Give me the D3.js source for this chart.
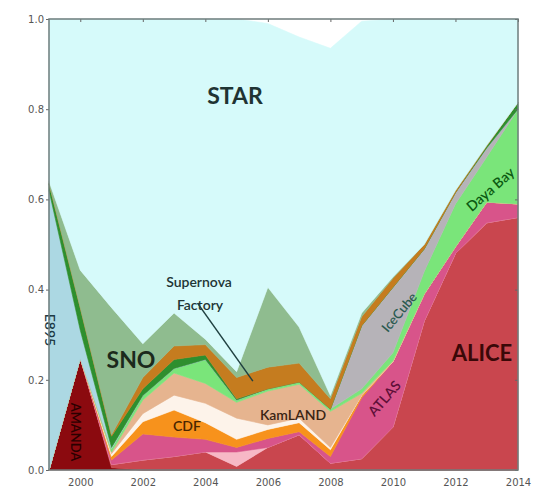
<!DOCTYPE html>
<html>
<head>
<meta charset="utf-8">
<script src="https://cdn.jsdelivr.net/npm/d3@7"></script>
<style>
  html, body { margin: 0; padding: 0; background: #ffffff; }
  svg { display: block; }
</style>
</head>
<body>
<svg id="chart" width="533" height="492"></svg>
<script>
// Share of computing use per experiment, 1999-2014 (stacked, bottom to top)
const years = [1999, 2000, 2001, 2002, 2003, 2004, 2005, 2006, 2007, 2008, 2009, 2010, 2011, 2012, 2013, 2014];

const amanda     = [0, 0.248, 0.005, 0, 0, 0, 0, 0, 0, 0, 0, 0, 0, 0, 0, 0];
const alice      = [0, 0, 0.007, 0.022, 0.03, 0.04, 0.008, 0.05, 0.078, 0.015, 0.025, 0.095, 0.33, 0.48, 0.548, 0.56];
const otherPink  = [0, 0, 0, 0, 0, 0, 0.032, 0, 0, 0, 0, 0, 0, 0, 0, 0];
const atlas      = [0, 0, 0.01, 0.058, 0.043, 0.028, 0.01, 0.02, 0.007, 0.015, 0.135, 0.145, 0.06, 0.015, 0.046, 0.03];
const cdf        = [0, 0, 0.008, 0.027, 0.06, 0.037, 0.018, 0.02, 0.02, 0.015, 0.005, 0, 0, 0, 0, 0];
const otherCream = [0, 0, 0.006, 0.018, 0.033, 0.043, 0.047, 0.01, 0.01, 0.005, 0, 0, 0, 0, 0, 0];
const kamland    = [0, 0, 0.004, 0.03, 0.049, 0.044, 0.035, 0.075, 0.075, 0.08, 0.005, 0.002, 0, 0, 0, 0];
const dayaBay    = [0, 0, 0.008, 0.01, 0.01, 0.053, 0.005, 0.005, 0.005, 0.005, 0.01, 0.018, 0.05, 0.095, 0.10, 0.21];
const iceCube    = [0, 0, 0, 0, 0, 0, 0, 0, 0, 0, 0.14, 0.145, 0.05, 0.025, 0.02, 0];
const e895       = [0.62, 0.062, 0.002, 0, 0, 0, 0, 0, 0, 0, 0, 0, 0, 0, 0, 0];
const otherGreen = [0.015, 0.05, 0.025, 0.015, 0.02, 0.01, 0.003, 0, 0, 0, 0, 0, 0, 0, 0.004, 0.015];
const supernova  = [0, 0, 0.003, 0.025, 0.03, 0.023, 0.047, 0.048, 0.042, 0.023, 0.02, 0.02, 0.01, 0.005, 0.002, 0];
const sno        = [0.005, 0.083, 0.282, 0.075, 0.073, 0.012, 0.013, 0.177, 0.08, 0.007, 0.008, 0.003, 0, 0, 0, 0];
const star       = [0.36, 0.557, 0.64, 0.72, 0.652, 0.71, 0.782, 0.585, 0.643, 0.77, 0.647, 0.572, 0.5, 0.38, 0.28, 0.185];

const yTicks = [0, 0.2, 0.4, 0.6, 0.8, 1.0];
const xTicks = [2000, 2002, 2004, 2006, 2008, 2010, 2012, 2014];

const layers = [
  { key: "amanda",     values: amanda,     color: "#8b0a0f" },
  { key: "alice",      values: alice,      color: "#c9464e" },
  { key: "otherPink",  values: otherPink,  color: "#f7b8c6" },
  { key: "atlas",      values: atlas,      color: "#d8548a" },
  { key: "cdf",        values: cdf,        color: "#f7921c" },
  { key: "otherCream", values: otherCream, color: "#fdf3ea" },
  { key: "kamland",    values: kamland,    color: "#e6b48f" },
  { key: "dayaBay",    values: dayaBay,    color: "#7ae57a" },
  { key: "iceCube",    values: iceCube,    color: "#b6b3b8" },
  { key: "e895",       values: e895,       color: "#acd8e3" },
  { key: "otherGreen", values: otherGreen, color: "#2e8f2e" },
  { key: "supernova",  values: supernova,  color: "#c57c1f" },
  { key: "sno",        values: sno,        color: "#8fbc8f" },
  { key: "star",       values: star,       color: "#d6fafa" }
];

const table = years.map((yr, i) => {
  const row = { year: yr };
  layers.forEach(l => { row[l.key] = l.values[i]; });
  return row;
});

const svg = d3.select("#chart");
const plotLeft = 49, plotRight = 518, plotTop = 19, plotBottom = 470;

const x = d3.scaleLinear().domain([1999, 2014]).range([plotLeft, plotRight]);
const y = d3.scaleLinear().domain([0, 1]).range([plotBottom, plotTop]);

const stack = d3.stack().keys(layers.map(l => l.key));
const series = stack(table);

const area = d3.area()
  .x(d => x(d.data.year))
  .y0(d => y(d[0]))
  .y1(d => y(d[1]));

const colorOf = Object.fromEntries(layers.map(l => [l.key, l.color]));

svg.append("g")
  .selectAll("path")
  .data(series)
  .join("path")
  .attr("d", area)
  .attr("fill", s => colorOf[s.key])
  .attr("stroke", s => colorOf[s.key])
  .attr("stroke-width", 0.6)
  .attr("stroke-linejoin", "round");

// Labels on the areas
const font = "Lato, 'Open Sans', sans-serif";
function label(text, px, py, size, color, opts = {}) {
  const t = svg.append("text")
    .attr("x", px).attr("y", py)
    .attr("text-anchor", "middle")
    .attr("dominant-baseline", "central")
    .attr("font-family", font)
    .attr("font-size", size)
    .attr("font-weight", opts.weight || 700)
    .attr("fill", color)
    .text(text);
  if (opts.rotate) t.attr("transform", `rotate(${opts.rotate},${px},${py})`);
  return t;
}

label("STAR", 235, 95, 23, "#1f3333");
label("SNO", 131, 359, 23, "#1c2a1c");
label("ALICE", 482, 352, 22, "#3a0808");
label("Supernova", 199, 281, 14, "#1e3535", { weight: 600 });
label("Factory", 200, 304, 14, "#1e3535", { weight: 600 });
label("CDF", 187, 425, 14, "#4a2600", { weight: 600 });
label("KamLAND", 293, 414, 14, "#3a2414", { weight: 600 });
label("IceCube", 399, 312, 13, "#2b5a50", { weight: 600, rotate: -50 });
label("ATLAS", 384, 398, 14, "#5e0f38", { weight: 600, rotate: -49 });
label("Daya Bay", 490, 189, 14, "#0c5a12", { weight: 600, rotate: -41 });
label("E895", 50, 330, 14, "#1d3a44", { weight: 600, rotate: 90 });
label("AMANDA", 76, 432, 13, "#2a0000", { weight: 600, rotate: 90 });

// Pointer from the Supernova Factory label to its band
svg.append("line")
  .attr("x1", x(2003.75)).attr("y1", y(0.37))
  .attr("x2", x(2005.52)).attr("y2", y(0.197))
  .attr("stroke", "#1f4040")
  .attr("stroke-width", 1.5);

// Axes
const tickColor = "#666";
const yAxis = svg.append("g")
  .attr("transform", `translate(${plotLeft},0)`)
  .call(d3.axisLeft(y).tickValues(yTicks).tickFormat(d3.format(".1f")).tickSize(3).tickPadding(2));
const xAxis = svg.append("g")
  .attr("transform", `translate(0,${plotBottom})`)
  .call(d3.axisBottom(x).tickValues(xTicks).tickFormat(d3.format("d")).tickSize(0).tickPadding(9));
const xTop = svg.append("g")
  .attr("transform", `translate(0,${plotTop})`)
  .call(d3.axisTop(x).tickValues(xTicks).tickFormat("").tickSizeInner(-3).tickSizeOuter(0));
const yRight = svg.append("g")
  .attr("transform", `translate(${plotRight},0)`)
  .call(d3.axisRight(y).tickValues(yTicks).tickFormat("").tickSizeInner(-3).tickSizeOuter(0));

[yAxis, xAxis, xTop, yRight].forEach(g => {
  g.select(".domain").remove();
  g.selectAll("line").attr("stroke", tickColor);
  g.selectAll("text")
    .attr("fill", "#555")
    .attr("font-family", "'DejaVu Sans', sans-serif")
    .attr("font-size", 10);
});

// Frame around the plot
svg.append("rect")
  .attr("x", plotLeft).attr("y", plotTop)
  .attr("width", plotRight - plotLeft).attr("height", plotBottom - plotTop)
  .attr("fill", "none")
  .attr("stroke", "#6f7c7c")
  .attr("stroke-width", 1.5);
</script>
</body>
</html>
